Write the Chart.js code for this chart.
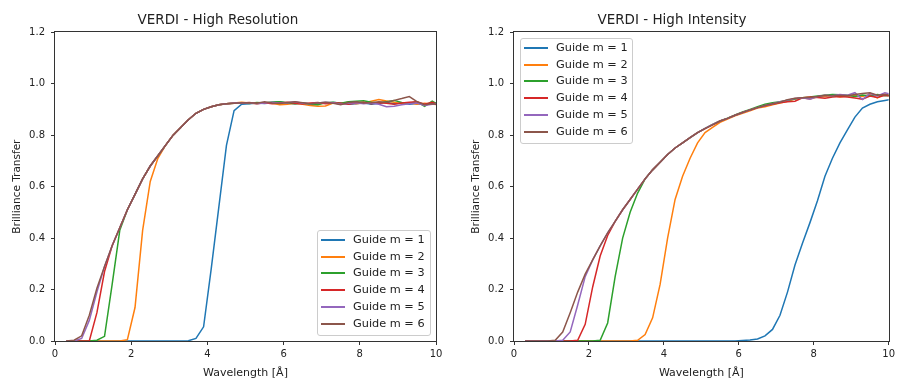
<!DOCTYPE html>
<html>
<head>
<meta charset="utf-8">
<script src="https://cdn.jsdelivr.net/npm/chart.js@4.4.0/dist/chart.umd.min.js"></script>
<style>
  body { margin: 0; background: #fff; }
  #wrap { position: relative; width: 898px; height: 381px; overflow: hidden; font-family: "DejaVu Sans", sans-serif; }
  canvas { position: absolute; top: 0; }
  #left { left: 0; }
  #right { left: 449px; }
  .legend { position: absolute; border: 1px solid #ccc; border-radius: 3px; background: rgba(255,255,255,0.8); box-sizing: border-box; }
  .legend .row { position: absolute; left: 0; width: 100%; height: 16px; }
  .legend .sw { position: absolute; left: 3px; width: 24px; height: 2px; top: 7px; }
  .legend .lab { position: absolute; left: 35px; top: 0; font-size: 11.3px; line-height: 16px; color: #222; white-space: nowrap; }
</style>
</head>
<body>
<div id="wrap">
  <canvas id="left" width="449" height="381"></canvas>
  <canvas id="right" width="449" height="381"></canvas>
  <div class="legend" id="legLeft" style="left:317px; top:230px; width:114px; height:106px;"></div>
  <div class="legend" id="legRight" style="left:520px; top:38px; width:113px; height:106px;"></div>
</div>
<script>
// wavelength points (Å)
const wavelength = [0.3,0.5,0.7,0.9,1.1,1.3,1.5,1.7,1.9,2.1,
  2.3,2.5,2.7,2.9,3.1,3.3,3.5,3.7,3.9,4.1,
  4.3,4.5,4.7,4.9,5.1,5.3,5.5,5.7,5.9,6.1,
  6.3,6.5,6.7,6.9,7.1,7.3,7.5,7.7,7.9,8.1,
  8.3,8.5,8.7,8.9,9.1,9.3,9.5,9.7,9.9,10.1];

const guideNames = ['Guide m = 1','Guide m = 2','Guide m = 3','Guide m = 4','Guide m = 5','Guide m = 6'];
const colours = ['#1f77b4','#ff7f0e','#2ca02c','#d62728','#9467bd','#8c564b'];

const xTicks = [0, 2, 4, 6, 8, 10];
const yTicks = [0, 0.2, 0.4, 0.6, 0.8, 1.0, 1.2];

// VERDI - High Resolution
const resM1 = [0,0,0,0,0,0,0,0,0,0,
  0,0,0,0,0,0,0.001,0.01,0.055,0.28,
  0.52,0.76,0.895,0.92,0.922,0.925,0.923,0.926,0.93,0.924,
  0.922,0.925,0.921,0.926,0.924,0.927,0.925,0.92,0.922,0.926,
  0.92,0.924,0.928,0.922,0.925,0.92,0.923,0.918,0.925,0.922];
const resM2 = [0,0,0,0,0,0,0,0,0.005,0.13,
  0.43,0.62,0.71,0.76,0.80,0.83,0.86,0.885,0.90,0.91,
  0.918,0.922,0.925,0.928,0.925,0.922,0.926,0.924,0.918,0.92,
  0.924,0.92,0.915,0.912,0.913,0.925,0.923,0.928,0.922,0.925,
  0.932,0.938,0.933,0.928,0.922,0.926,0.92,0.924,0.921,0.918];
const resM3 = [0,0,0,0,0.003,0.018,0.22,0.43,0.51,0.57,
  0.63,0.68,0.72,0.76,0.80,0.83,0.86,0.885,0.90,0.91,
  0.918,0.922,0.924,0.926,0.923,0.927,0.925,0.929,0.93,0.926,
  0.922,0.925,0.92,0.918,0.926,0.928,0.924,0.93,0.932,0.934,
  0.928,0.925,0.93,0.935,0.927,0.924,0.93,0.912,0.932,0.915];
const resM4 = [0,0,0,0,0.11,0.27,0.37,0.44,0.51,0.57,
  0.63,0.68,0.72,0.76,0.80,0.83,0.86,0.885,0.90,0.91,
  0.918,0.922,0.924,0.925,0.927,0.923,0.926,0.922,0.925,0.928,
  0.924,0.921,0.925,0.927,0.922,0.926,0.924,0.92,0.925,0.928,
  0.922,0.926,0.924,0.92,0.925,0.928,0.93,0.92,0.928,0.915];
const resM5 = [0,0,0.01,0.08,0.19,0.29,0.37,0.44,0.51,0.57,
  0.63,0.68,0.72,0.76,0.80,0.83,0.86,0.885,0.90,0.91,
  0.918,0.922,0.925,0.924,0.926,0.922,0.925,0.928,0.924,0.926,
  0.93,0.924,0.922,0.925,0.928,0.926,0.92,0.924,0.926,0.922,
  0.925,0.92,0.91,0.912,0.918,0.922,0.925,0.915,0.92,0.922];
const resM6 = [0,0.003,0.02,0.1,0.205,0.29,0.37,0.44,0.51,0.57,
  0.63,0.68,0.72,0.76,0.80,0.83,0.86,0.885,0.90,0.91,
  0.918,0.922,0.924,0.925,0.926,0.924,0.93,0.925,0.923,0.927,
  0.93,0.926,0.922,0.925,0.928,0.924,0.918,0.927,0.93,0.925,
  0.926,0.93,0.928,0.935,0.942,0.95,0.93,0.918,0.922,0.918];

// VERDI - High Intensity
const intM1 = [0,0,0,0,0,0,0,0,0,0,
  0,0,0,0,0,0,0,0,0,0,
  0,0,0,0,0,0,0,0,0,0.002,
  0.004,0.008,0.02,0.045,0.1,0.19,0.295,0.38,0.46,0.545,
  0.64,0.71,0.77,0.82,0.87,0.905,0.92,0.93,0.935,0.94];
const intM2 = [0,0,0,0,0,0,0,0,0,0,
  0,0,0,0,0,0.003,0.025,0.09,0.22,0.40,
  0.55,0.64,0.71,0.77,0.81,0.83,0.85,0.862,0.875,0.885,
  0.895,0.905,0.91,0.918,0.925,0.932,0.94,0.945,0.94,0.948,
  0.95,0.955,0.948,0.952,0.955,0.95,0.958,0.945,0.96,0.948];
const intM3 = [0,0,0,0,0,0,0,0,0,0,
  0.003,0.07,0.25,0.40,0.50,0.575,0.63,0.665,0.695,0.725,
  0.75,0.77,0.79,0.81,0.826,0.842,0.855,0.866,0.878,0.89,
  0.9,0.91,0.92,0.926,0.93,0.936,0.94,0.945,0.948,0.952,
  0.955,0.958,0.957,0.955,0.95,0.956,0.952,0.958,0.953,0.955];
const intM4 = [0,0,0,0,0,0,0,0.003,0.065,0.21,
  0.33,0.41,0.465,0.51,0.55,0.59,0.63,0.665,0.695,0.725,
  0.75,0.77,0.79,0.81,0.825,0.84,0.855,0.865,0.877,0.888,
  0.898,0.907,0.914,0.92,0.926,0.93,0.932,0.945,0.948,0.946,
  0.943,0.948,0.95,0.948,0.944,0.94,0.952,0.946,0.955,0.95];
const intM5 = [0,0,0,0,0,0.003,0.035,0.14,0.25,0.315,
  0.37,0.42,0.465,0.51,0.55,0.59,0.63,0.665,0.695,0.725,
  0.75,0.77,0.79,0.81,0.826,0.842,0.855,0.865,0.877,0.888,
  0.898,0.907,0.915,0.922,0.93,0.936,0.942,0.945,0.94,0.95,
  0.955,0.953,0.958,0.955,0.965,0.938,0.962,0.952,0.965,0.958];
const intM6 = [0,0,0,0,0.003,0.035,0.11,0.19,0.26,0.315,
  0.37,0.42,0.465,0.51,0.55,0.59,0.63,0.665,0.695,0.725,
  0.75,0.77,0.79,0.81,0.825,0.84,0.855,0.865,0.877,0.888,
  0.898,0.907,0.915,0.922,0.928,0.938,0.943,0.945,0.946,0.95,
  0.955,0.952,0.955,0.953,0.958,0.962,0.965,0.955,0.958,0.955];

const txt = '#222';

// draws the box round the plot area, like matplotlib
const frame = {
  id: 'frame',
  afterDraw(chart) {
    const a = chart.chartArea;
    const c = chart.ctx;
    c.save();
    c.strokeStyle = '#333';
    c.lineWidth = 1;
    const l = Math.round(a.left) - 0.5, t = Math.round(a.top) - 0.5;
    const r = Math.round(a.right) + 0.5, b = Math.round(a.bottom) + 0.5;
    c.strokeRect(l, t, r - l, b - t);
    c.restore();
  }
};

function makeChart(id, title, series, yWidth, yTitlePad, padRight) {
  const datasets = series.map((s, i) => ({
    label: guideNames[i],
    data: wavelength.map((x, k) => ({ x: x, y: s[k] })),
    borderColor: colours[i],
    backgroundColor: colours[i],
    borderWidth: 1.5,
    pointRadius: 0,
    tension: 0,
    order: series.length - i   // m = 6 ends on top
  }));

  return new Chart(document.getElementById(id), {
    type: 'line',
    data: { datasets },
    options: {
      responsive: false,
      animation: false,
      layout: { padding: { left: 0, right: padRight, top: 0, bottom: 0 } },
      plugins: {
        legend: { display: false },
        tooltip: { enabled: false },
        title: {
          display: true,
          text: title,
          color: txt,
          font: { family: 'DejaVu Sans', size: 13.5, weight: 'normal', lineHeight: 1.2 },
          padding: { top: 12.5, bottom: 3.5 }
        }
      },
      scales: {
        x: {
          type: 'linear',
          min: 0, max: 10,
          afterBuildTicks: s => { s.ticks = xTicks.map(v => ({ value: v })); },
          afterFit: s => { s.height = 40; },
          grid: { drawOnChartArea: false, drawTicks: true, tickLength: 4, color: '#333' },
          border: { display: false },
          ticks: { color: txt, padding: 3, maxRotation: 0, font: { family: 'DejaVu Sans', size: 10 }, callback: v => String(v) },
          title: { display: true, text: 'Wavelength [Å]', color: txt, font: { family: 'DejaVu Sans', size: 11 }, padding: { top: 0, bottom: 1 } }
        },
        y: {
          min: 0, max: 1.2,
          afterBuildTicks: s => { s.ticks = yTicks.map(v => ({ value: v })); },
          afterFit: s => { s.width = yWidth; },
          grid: { drawOnChartArea: false, drawTicks: true, tickLength: 4, color: '#333' },
          border: { display: false },
          ticks: { color: txt, padding: 6, font: { family: 'DejaVu Sans', size: 10 }, callback: v => v.toFixed(1) },
          title: { display: true, text: 'Brilliance Transfer', color: txt, font: { family: 'DejaVu Sans', size: 10.5 }, padding: { top: yTitlePad, bottom: 0 } }
        }
      }
    },
    plugins: [frame]
  });
}

function buildLegend(boxId) {
  const box = document.getElementById(boxId);
  guideNames.forEach((name, i) => {
    const row = document.createElement('div');
    row.className = 'row';
    row.style.top = (1 + i * 16.7) + 'px';
    row.innerHTML = '<div class="sw" style="background:' + colours[i] + '"></div><div class="lab">' + name + '</div>';
    box.appendChild(row);
  });
}

makeChart('left', 'VERDI - High Resolution', [resM1, resM2, resM3, resM4, resM5, resM6], 55, 11, 13);
makeChart('right', 'VERDI - High Intensity', [intM1, intM2, intM3, intM4, intM5, intM6], 65, 21, 3);
buildLegend('legLeft');
buildLegend('legRight');
</script>
</body>
</html>
